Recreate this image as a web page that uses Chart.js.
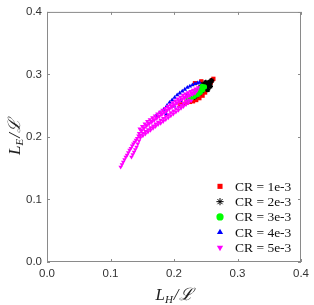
<!DOCTYPE html>
<html>
<head>
<meta charset="utf-8">
<script src="https://cdn.jsdelivr.net/npm/chart.js@4/dist/chart.umd.min.js"></script>
<style>
  html, body { margin: 0; padding: 0; background: #fff; }
  #wrap { width: 314px; height: 305px; }
</style>
</head>
<body>
<div id="wrap"><canvas id="grafica" width="314" height="305"></canvas></div>
<script>
// DATOS
const seriesNames = ["CR = 1e-3", "CR = 2e-3", "CR = 3e-3", "CR = 4e-3", "CR = 5e-3"];
const axisTicks = [0.0, 0.1, 0.2, 0.3, 0.4];

const cr1X = [0.210, 0.215, 0.220, 0.225, 0.230, 0.235, 0.240, 0.245, 0.249, 0.252, 0.255, 0.258, 0.260, 0.262, 0.233, 0.243];
const cr1Y = [0.252, 0.253, 0.255, 0.256, 0.257, 0.259, 0.262, 0.266, 0.271, 0.276, 0.282, 0.287, 0.291, 0.293, 0.286, 0.289];

const cr2X = [0.232, 0.236, 0.240, 0.244, 0.248, 0.251, 0.254, 0.257, 0.259, 0.250, 0.255, 0.246, 0.242, 0.253, 0.257];
const cr2Y = [0.264, 0.267, 0.270, 0.274, 0.278, 0.282, 0.285, 0.288, 0.290, 0.287, 0.286, 0.284, 0.280, 0.276, 0.281];

const cr3X = [0.222, 0.227, 0.232, 0.237, 0.241, 0.245, 0.248, 0.236, 0.240, 0.244];
const cr3Y = [0.259, 0.262, 0.265, 0.268, 0.271, 0.275, 0.280, 0.274, 0.277, 0.281];

const cr4X = [0.172, 0.178, 0.184, 0.189, 0.193, 0.197, 0.201, 0.205, 0.209, 0.213, 0.217, 0.221, 0.225, 0.229, 0.233, 0.237, 0.240, 0.188, 0.200, 0.210, 0.220];
const cr4Y = [0.234, 0.239, 0.244, 0.250, 0.255, 0.259, 0.263, 0.267, 0.270, 0.273, 0.276, 0.279, 0.281, 0.283, 0.285, 0.286, 0.287, 0.236, 0.249, 0.258, 0.266];

// CR = 5e-3: dos hilos abajo y banda ancha arriba
const cr5X = [0.116, 0.118, 0.120, 0.122, 0.124, 0.126, 0.128, 0.130, 0.132, 0.134, 0.136, 0.138, 0.140, 0.142, 0.144,
              0.133, 0.135, 0.137, 0.139, 0.141, 0.143, 0.145,
              0.146, 0.150, 0.154, 0.158, 0.162, 0.166, 0.170, 0.174, 0.178, 0.182, 0.186, 0.190, 0.194, 0.198, 0.202, 0.206, 0.210, 0.214, 0.218, 0.222, 0.226, 0.230, 0.234, 0.238,
              0.148, 0.152, 0.156, 0.160, 0.164, 0.168, 0.172, 0.176, 0.180, 0.184, 0.188, 0.192, 0.196, 0.200, 0.204, 0.208, 0.212, 0.216, 0.220, 0.224, 0.228, 0.232, 0.236,
              0.145, 0.149, 0.153, 0.157, 0.161, 0.165, 0.169, 0.173, 0.177, 0.181, 0.185, 0.189, 0.193, 0.197, 0.201, 0.205, 0.209, 0.213, 0.217, 0.221, 0.225, 0.229, 0.233,
              0.147, 0.151, 0.155, 0.159, 0.163, 0.167, 0.171, 0.175, 0.179, 0.183, 0.187, 0.191, 0.195, 0.199, 0.203, 0.207, 0.211, 0.215, 0.219, 0.223,
              0.147, 0.151, 0.155, 0.159, 0.163, 0.167, 0.171, 0.175, 0.179, 0.183, 0.187, 0.191, 0.195, 0.199, 0.203, 0.207, 0.211, 0.215, 0.219, 0.223, 0.227];
const cr5Y = [0.152, 0.156, 0.160, 0.164, 0.168, 0.171, 0.175, 0.179, 0.182, 0.186, 0.189, 0.192, 0.195, 0.198, 0.202,
              0.168, 0.172, 0.176, 0.180, 0.184, 0.189, 0.194,
              0.213, 0.217, 0.221, 0.225, 0.228, 0.231, 0.234, 0.237, 0.240, 0.243, 0.246, 0.249, 0.252, 0.255, 0.258, 0.261, 0.264, 0.267, 0.269, 0.271, 0.273, 0.275, 0.277, 0.279,
              0.211, 0.215, 0.219, 0.222, 0.225, 0.228, 0.231, 0.234, 0.237, 0.240, 0.243, 0.246, 0.249, 0.252, 0.255, 0.258, 0.261, 0.264, 0.266, 0.268, 0.270, 0.272, 0.274,
              0.206, 0.210, 0.214, 0.218, 0.221, 0.224, 0.227, 0.230, 0.233, 0.236, 0.239, 0.242, 0.245, 0.248, 0.251, 0.254, 0.257, 0.260, 0.262, 0.264, 0.266, 0.268, 0.270,
              0.203, 0.206, 0.209, 0.212, 0.215, 0.218, 0.221, 0.224, 0.227, 0.230, 0.233, 0.236, 0.239, 0.242, 0.245, 0.248, 0.251, 0.254, 0.257, 0.259,
              0.199, 0.202, 0.205, 0.208, 0.211, 0.214, 0.217, 0.220, 0.222, 0.225, 0.228, 0.231, 0.234, 0.237, 0.240, 0.243, 0.246, 0.249, 0.252, 0.255, 0.258];

const colores = ["#ff0000", "#000000", "#00ff00", "#0000ff", "#ff00ff"];
const estilos = ["rect", "star", "circle", "triangle", "triangle"];
const rotaciones = [0, 0, 0, 0, 180];
const ordenes = [4, 3, 2, 1, 0];

function pares(xs, ys){
  let out = [];
  for(let i = 0; i < xs.length; i++){
    out.push({x: xs[i], y: ys[i]});
  }
  return out;
}

const todosX = [cr1X, cr2X, cr3X, cr4X, cr5X];
const todosY = [cr1Y, cr2Y, cr3Y, cr4Y, cr5Y];

let datasets = [];
for(let s = 0; s < seriesNames.length; s++){
  datasets.push({
    label: seriesNames[s],
    data: pares(todosX[s], todosY[s]),
    order: ordenes[s],
    pointStyle: estilos[s],
    rotation: rotaciones[s],
    backgroundColor: colores[s],
    borderColor: colores[s],
    borderWidth: s == 1 ? 1.4 : 0,
    pointRadius: s == 0 ? 3 : (s == 1 ? 2.8 : 2.6),
    showLine: false
  });
}

const gris = "#8a8a8a";

// caja, ticks hacia adentro, leyenda y titulos
const extras = {
  id: "extras",
  afterDraw(chart){
    const ctx = chart.ctx;
    const a = chart.chartArea;
    const sx = chart.scales.x;
    const sy = chart.scales.y;
    ctx.save();
    ctx.strokeStyle = gris;
    ctx.lineWidth = 1;
    ctx.strokeRect(a.left + 0.5, a.top + 0.5, a.right - a.left - 1, a.bottom - a.top - 1);
    ctx.beginPath();
    axisTicks.forEach(v => {
      let px = Math.round(sx.getPixelForValue(v)) + 0.5;
      ctx.moveTo(px, a.bottom); ctx.lineTo(px, a.bottom - 3);
      ctx.moveTo(px, a.top); ctx.lineTo(px, a.top + 3);
      let py = Math.round(sy.getPixelForValue(v)) + 0.5;
      ctx.moveTo(a.left, py); ctx.lineTo(a.left + 3, py);
      ctx.moveTo(a.right, py); ctx.lineTo(a.right - 3, py);
    });
    ctx.stroke();

    // leyenda
    const lx = a.right - 81;
    const ly0 = sy.getPixelForValue(0.121);
    for(let s = 0; s < seriesNames.length; s++){
      let y = ly0 + s * 15.3;
      ctx.fillStyle = colores[s];
      ctx.strokeStyle = colores[s];
      Chart.helpers.drawPoint(ctx, {
        pointStyle: estilos[s], rotation: rotaciones[s], radius: 3.6, borderWidth: s == 1 ? 1.4 : 0
      }, lx, y);
      ctx.fillStyle = "#111";
      ctx.font = "13.5px 'Liberation Serif'";
      ctx.textAlign = "left";
      ctx.textBaseline = "middle";
      ctx.fillText(seriesNames[s], lx + 15, y + 1);
    }

    // titulos de ejes
    function titulo(sub, cx, cy, rot){
      ctx.save();
      ctx.translate(cx, cy);
      ctx.rotate(rot);
      ctx.fillStyle = "#222";
      ctx.textBaseline = "alphabetic";
      ctx.textAlign = "left";
      const fBig = "italic 17px 'Liberation Serif'";
      const fSub = "italic 11px 'Liberation Serif'";
      ctx.font = fBig; const w1 = ctx.measureText("L").width;
      ctx.font = fSub; const w2 = ctx.measureText(sub).width;
      ctx.font = fBig; const w3 = ctx.measureText("/\u2112").width;
      const tot = w1 + w2 + 1 + w3;
      let x = -tot / 2;
      ctx.font = fBig; ctx.fillText("L", x, 6); x += w1;
      ctx.font = fSub; ctx.fillText(sub, x, 9); x += w2 + 1;
      ctx.font = fBig; ctx.fillText("/\u2112", x, 6);
      ctx.restore();
    }
    titulo("H", (a.left + a.right) / 2, 294, 0);
    titulo("E", 14, (a.top + a.bottom) / 2, -Math.PI / 2);
    ctx.restore();
  }
};

const micanvas = document.getElementById("grafica").getContext("2d");
const grafica = new Chart(micanvas, {
  type: "scatter",
  data: { datasets: datasets },
  options: {
    responsive: false,
    animation: false,
    layout: { padding: { top: 5, right: 10, left: 0, bottom: 0 } },
    plugins: { legend: { display: false }, tooltip: { enabled: false } },
    scales: {
      x: {
        type: "linear", min: 0, max: 0.4,
        afterBuildTicks: (sc) => { sc.ticks = axisTicks.map(v => ({value: v})); },
        afterFit: (sc) => { sc.height = 43; },
        grid: { display: false, drawTicks: false },
        border: { display: false },
        ticks: { color: "#333", padding: 5, font: { family: "'Liberation Sans'", size: 11.5 },
                 callback: (v) => v.toFixed(1) }
      },
      y: {
        type: "linear", min: 0, max: 0.4,
        afterBuildTicks: (sc) => { sc.ticks = axisTicks.map(v => ({value: v})); },
        afterFit: (sc) => { sc.width = 47; },
        grid: { display: false, drawTicks: false },
        border: { display: false },
        ticks: { color: "#333", padding: 5, font: { family: "'Liberation Sans'", size: 11.5 },
                 callback: (v) => v.toFixed(1) }
      }
    }
  },
  plugins: [extras]
});
</script>
</body>
</html>
